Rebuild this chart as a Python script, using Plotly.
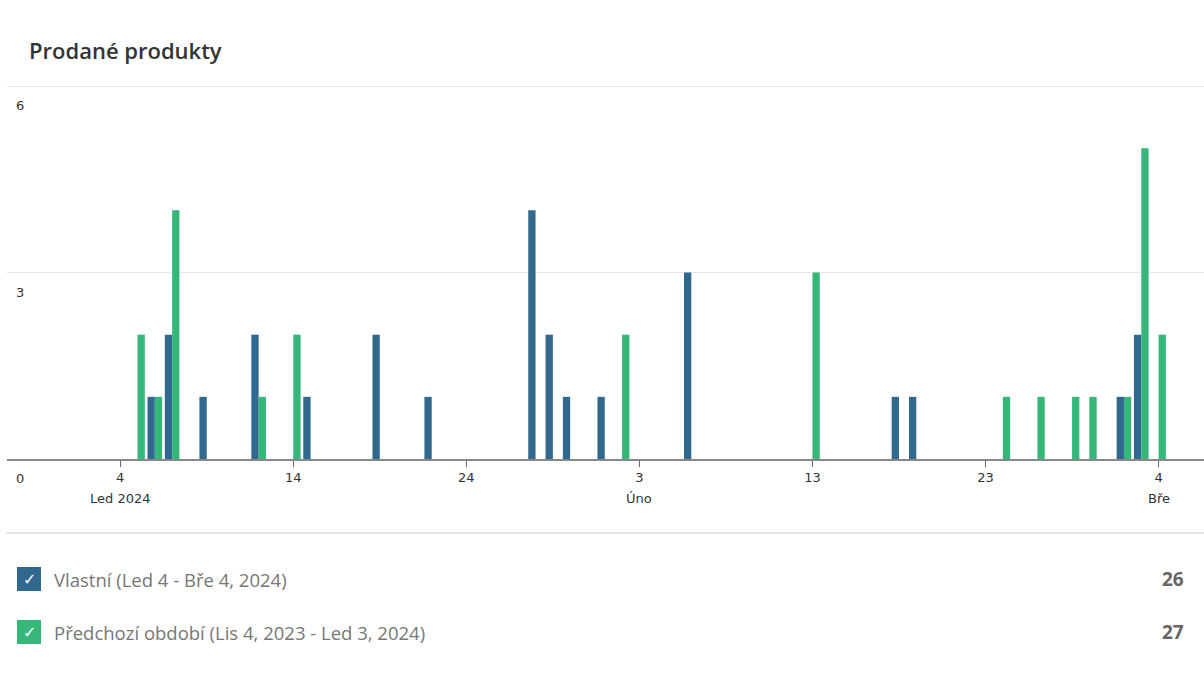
import plotly.graph_objects as go

# Daily units sold, current period (dates in the current window)
own_dates = ["2024-01-06", "2024-01-07", "2024-01-09", "2024-01-12", "2024-01-15",
             "2024-01-19", "2024-01-22", "2024-01-28", "2024-01-29", "2024-01-30",
             "2024-02-01", "2024-02-06", "2024-02-18", "2024-02-19", "2024-03-02",
             "2024-03-03"]
own_values = [1, 2, 1, 2, 1, 2, 1, 4, 2, 1, 1, 3, 1, 1, 1, 2]

# Previous period, aligned onto the current window's dates
prev_dates = ["2024-01-05", "2024-01-06", "2024-01-07", "2024-01-12", "2024-01-14",
              "2024-02-02", "2024-02-13", "2024-02-24", "2024-02-26", "2024-02-28",
              "2024-02-29", "2024-03-02", "2024-03-03", "2024-03-04"]
prev_values = [2, 1, 4, 1, 2, 2, 3, 1, 1, 1, 1, 1, 5, 2]

own_label = "Vlastní (Led 4 - Bře 4, 2024)"
prev_label = "Předchozí období (Lis 4, 2023 - Led 3, 2024)"

x_tick_dates = ["2024-01-04", "2024-01-14", "2024-01-24", "2024-02-03",
                "2024-02-13", "2024-02-23", "2024-03-04"]
x_tick_text = ["4", "14", "24", "3", "13", "23", "4"]
month_dates = ["2024-01-04", "2024-02-03", "2024-03-04"]
month_text = ["Led 2024", "Úno", "Bře"]
y_ticks = [0, 3, 6]

BLUE = "#31688e"
GREEN = "#35b779"
TICK_FONT = dict(family="DejaVu Sans", size=13, color="#333333")

W, H = 1204, 673
L, R, T, B = 7, 0, 86, 214
PW, PH = W - L - R, H - T - B


def px_x(x):
    return (x - L) / PW


def px_y(y):
    return (H - B - y) / PH


fig = go.Figure()
fig.add_trace(go.Bar(x=own_dates, y=own_values, name=own_label,
                     marker=dict(color=BLUE, line=dict(width=0))))
fig.add_trace(go.Bar(x=prev_dates, y=prev_values, name=prev_label,
                     marker=dict(color=GREEN, line=dict(width=0))))

annotations = []
# Title
annotations.append(dict(text="Prodané produkty", xref="paper", yref="paper",
                        x=px_x(27), y=px_y(50), xanchor="left", yanchor="middle",
                        showarrow=False,
                        font=dict(family="Open Sans", size=22, color="#333333", weight=600)))
# Y tick labels sit just below their gridlines
for v in y_ticks:
    annotations.append(dict(text=str(v), xref="paper", yref="y", x=px_x(20), y=v,
                            xanchor="center", yanchor="top", yshift=-10, showarrow=False,
                            font=TICK_FONT))
# Month labels under the day ticks
for d, t in zip(month_dates, month_text):
    annotations.append(dict(text=t, xref="x", yref="paper", x=d, y=px_y(498),
                            xanchor="center", yanchor="middle", showarrow=False,
                            font=TICK_FONT))

shapes = [
    # top border of the chart area
    dict(type="line", xref="paper", yref="y", x0=0, x1=1, y0=6, y1=6,
         line=dict(color="#e3e3e3", width=1.5)),
    # separator between chart and legend
    dict(type="line", xref="paper", yref="paper", x0=px_x(6), x1=1, y0=px_y(533), y1=px_y(533),
         line=dict(color="#dddddd", width=1.5)),
]

# Custom legend rows with totals
rows = [(own_label, own_values, BLUE, 579), (prev_label, prev_values, GREEN, 632)]
for label, vals, color, yc in rows:
    shapes.append(dict(type="rect", xref="paper", yref="paper",
                       x0=px_x(17), x1=px_x(41), y0=px_y(yc + 12), y1=px_y(yc - 12),
                       fillcolor=color, line=dict(width=0)))
    annotations.append(dict(text="✓", xref="paper", yref="paper", x=px_x(29), y=px_y(yc),
                            xanchor="center", yanchor="middle", showarrow=False,
                            font=dict(family="DejaVu Sans", size=16, color="white", weight=700)))
    annotations.append(dict(text=label, xref="paper", yref="paper", x=px_x(52), y=px_y(yc),
                            xanchor="left", yanchor="middle", showarrow=False,
                            font=dict(family="Open Sans", size=18.5, color="#777777")))
    annotations.append(dict(text=str(sum(vals)), xref="paper", yref="paper", x=px_x(1186),
                            y=px_y(yc), xanchor="right", yanchor="middle", showarrow=False,
                            font=dict(family="Open Sans", size=19, color="#666666", weight=700)))

fig.update_layout(
    width=W, height=H,
    margin=dict(l=L, r=R, t=T, b=B, pad=0),
    paper_bgcolor="white", plot_bgcolor="white",
    barmode="group", bargap=0.155, bargroupgap=0,
    showlegend=False,
    annotations=annotations, shapes=shapes,
    xaxis=dict(type="date", range=["2023-12-28 11:00", "2024-03-06 15:00"],
               tickvals=x_tick_dates, ticktext=x_tick_text,
               ticks="outside", ticklen=6, tickcolor="#666666", tickwidth=1,
               showline=True, linecolor="#888888", linewidth=1.5,
               showgrid=False, zeroline=False, tickfont=TICK_FONT),
    yaxis=dict(range=[0, 6], tickvals=y_ticks, showticklabels=False,
               showgrid=True, gridcolor="#e8e8e8", gridwidth=1, zeroline=False),
)

fig.write_html("out.html")
